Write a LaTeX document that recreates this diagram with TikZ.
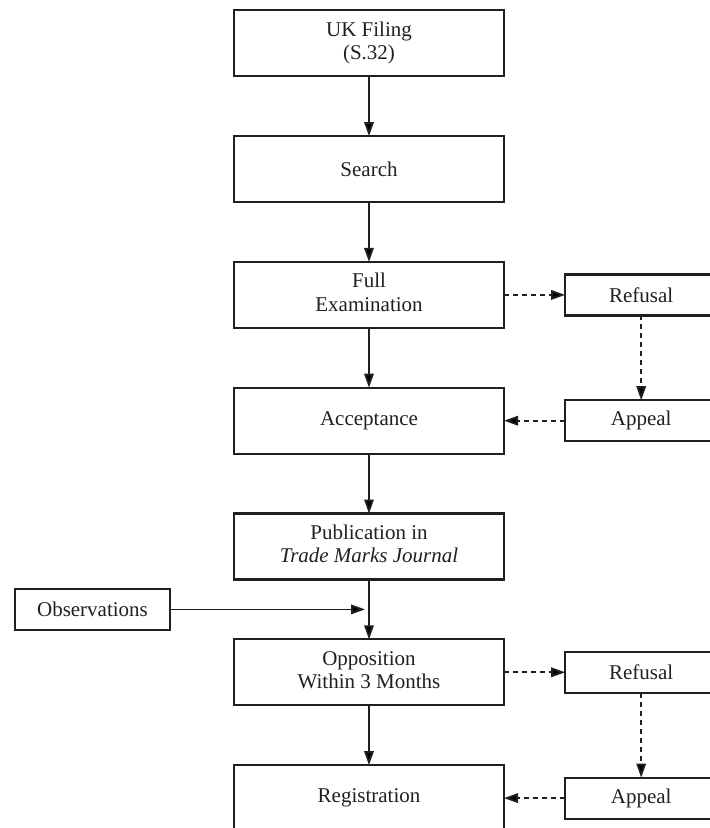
\documentclass[tikz,border=0pt]{standalone}
\usepackage{fontspec}
\setmainfont{Liberation Serif}
\usetikzlibrary{matrix,arrows.meta,positioning,calc}
\definecolor{ink}{HTML}{231F20}
\newcommand{\twolines}[2]{\begin{tabular}{@{}c@{}}#1\\#2\end{tabular}}

\begin{document}
\begin{tikzpicture}[x=1pt,y=1pt,
  stage/.style={draw=ink,line width=2.2pt,minimum width=270pt,minimum height=66pt,outer sep=0pt},
  side/.style={draw=ink,line width=2.2pt,minimum width=152pt,minimum height=41pt,outer sep=0pt},
  flow/.style={->,draw=ink,line width=1.8pt},
  maybe/.style={flow,dash pattern=on 5pt off 4pt},
  >={Triangle[length=14pt,width=9.5pt]},
  every node/.append style={font=\fontsize{21}{23.3}\selectfont,text=ink}]
  \useasboundingbox (0,0) rectangle (710,-828);
  \matrix (m) [matrix of nodes, row sep=57.6pt, column sep=59pt, inner sep=0pt, anchor=north west, nodes={anchor=center}, column 1/.style={nodes=stage}, column 2/.style={nodes=side}] at (232.7,-9)
  {
    \twolines{UK Filing}{(S.32)} \\
    Search \\
    \twolines{Full}{Examination} & Refusal \\
    Acceptance & Appeal \\
    \twolines{Publication in}{\textit{Trade Marks Journal}} \\
    \twolines{Opposition}{Within 3 Months} & Refusal \\
    Registration & Appeal \\
    };
  \coordinate (obsend) at ($(m-5-1.south)!.5!(m-6-1.north)+(-4,0)$);
  \node[side, minimum width=155pt, left=195pt of obsend] (obs) {Observations};
  \path[flow]
  (m-1-1) edge (m-2-1)
  (m-2-1) edge (m-3-1)
  (m-3-1) edge (m-4-1)
  (m-4-1) edge (m-5-1)
  (m-5-1) edge (m-6-1)
  (m-6-1) edge (m-7-1)
  (obs) edge (obsend)
  ;
  \path[maybe]
  (m-3-1) edge (m-3-2)
  (m-3-2) edge (m-4-2)
  (m-4-2) edge (m-4-1)
  (m-6-1) edge (m-6-2)
  (m-6-2) edge (m-7-2)
  (m-7-2) edge (m-7-1)
  ;
\end{tikzpicture}
\end{document}
